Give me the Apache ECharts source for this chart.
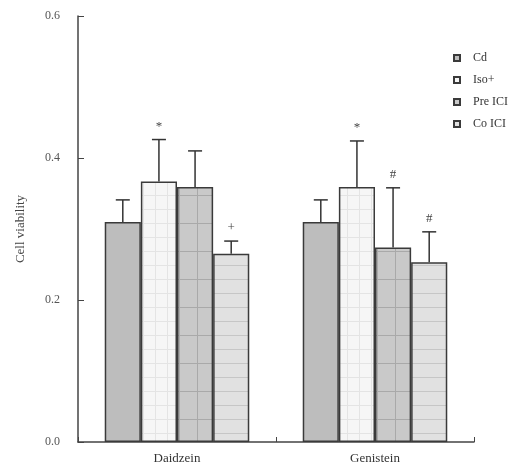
<!DOCTYPE html>
<html><head><meta charset="utf-8">
<script src="https://cdn.jsdelivr.net/npm/echarts@6/dist/echarts.min.js"></script>
<style>html,body{margin:0;padding:0;background:#fff}#c{width:526px;height:472px}</style>
</head><body><div id="c"></div>
<script>
var categories = ['Daidzein', 'Genistein'];
var seriesNames = ['Cd', 'Iso+', 'Pre ICI', 'Co ICI'];
var cdValues = [0.310, 0.310];
var isoValues = [0.367, 0.359];
var preValues = [0.359, 0.274];
var coValues = [0.265, 0.253];
var cdErr = [0.031, 0.031];
var isoErr = [0.059, 0.065];
var preErr = [0.051, 0.084];
var coErr = [0.018, 0.043];
var isoMarks = ['*', '*'];
var preMarks = ['', '#'];
var coMarks = ['+', '#'];
var cdMarks = ['', ''];
var yTicks = [0.0, 0.2, 0.4, 0.6];

function makePattern(w, h, bg, line, opts) {
  var cv = document.createElement('canvas');
  cv.width = w; cv.height = h;
  var ctx = cv.getContext('2d');
  ctx.fillStyle = bg; ctx.fillRect(0, 0, w, h);
  ctx.strokeStyle = line; ctx.lineWidth = 1;
  if (opts.h) { ctx.beginPath(); ctx.moveTo(0, h - 0.5); ctx.lineTo(w, h - 0.5); ctx.stroke(); }
  if (opts.v) { ctx.beginPath(); ctx.moveTo(w - 0.5, 0); ctx.lineTo(w - 0.5, h); ctx.stroke(); }
  return cv;
}
var fills = [
  '#bdbdbd',
  {image: makePattern(12, 14, '#f6f6f6', '#e4e4e4', {h: true, v: true}), repeat: 'repeat'},
  {image: makePattern(18, 28, '#c9c9c9', '#a9a9a9', {h: true, v: true}), repeat: 'repeat'},
  {image: makePattern(20, 14, '#e1e1e1', '#c6c6c6', {h: true}), repeat: 'repeat'}
];
var values = [cdValues, isoValues, preValues, coValues];
var errs = [cdErr, isoErr, preErr, coErr];
var marks = [cdMarks, isoMarks, preMarks, coMarks];

var series = [];
seriesNames.forEach(function (name, i) {
  series.push({
    name: name, type: 'bar', data: values[i],
    barGap: '0%', barCategoryGap: '27%',
    itemStyle: {color: fills[i], borderColor: '#3a3a3a', borderWidth: 1.5},
    emphasis: {disabled: true}
  });
});
var errData = [];
for (var s = 0; s < 4; s++) for (var c = 0; c < categories.length; c++)
  errData.push([c, values[s][c], values[s][c] + errs[s][c], s, marks[s][c]]);
series.push({
  type: 'custom', name: 'err', data: errData, z: 10, silent: true,
  renderItem: function (params, api) {
    var c = api.value(0), v = api.value(1), top = api.value(2), s = api.value(3);
    var mk = errData[params.dataIndex][4];
    var band = api.size([1, 0])[0];
    var bw = band * 0.73 / 4;
    var base = api.coord([c, v]);
    var x = base[0] + (s - 1.5) * bw;
    var yTop = api.coord([c, top])[1];
    var children = [
      {type: 'line', shape: {x1: x, y1: base[1], x2: x, y2: yTop}, style: {stroke: '#333', lineWidth: 1.5}},
      {type: 'line', shape: {x1: x - 7, y1: yTop, x2: x + 7, y2: yTop}, style: {stroke: '#333', lineWidth: 1.5}}
    ];
    if (mk) children.push({type: 'text', x: x, y: yTop - 13, style: {text: mk, fill: '#444', font: '13px "Liberation Serif"', align: 'center', verticalAlign: 'middle'}});
    return {type: 'group', children: children};
  }
});

var chart = echarts.init(document.getElementById('c'), null, {renderer: 'canvas'});
chart.setOption({
  animation: false,
  textStyle: {fontFamily: 'Liberation Serif'},
  grid: {left: 78, right: 52, top: 16, bottom: 30},
  legend: {
    data: seriesNames, orient: 'vertical', left: 448, top: 47,
    itemWidth: 6, itemHeight: 6, itemGap: 10,
    textStyle: {fontFamily: 'Liberation Serif', fontSize: 12, color: '#333', padding: [0, 0, 0, 8]},
    icon: 'rect', selectedMode: false
  },
  xAxis: {
    type: 'category', data: categories,
    axisLine: {lineStyle: {color: '#444', width: 1.5}},
    axisTick: {show: true, inside: true, length: 5, lineStyle: {color: '#444'}},
    axisLabel: {fontFamily: 'Liberation Serif', fontSize: 13, color: '#333', margin: 10}
  },
  yAxis: {
    type: 'value', min: 0, max: 0.6, interval: 0.2,
    name: 'Cell viability', nameLocation: 'middle', nameGap: 51, nameRotate: 90,
    nameTextStyle: {fontFamily: 'Liberation Serif', fontSize: 13, color: '#444'},
    axisLine: {show: true, lineStyle: {color: '#444', width: 1.5}},
    axisTick: {show: true, inside: true, length: 6, lineStyle: {color: '#444'}},
    splitLine: {show: false},
    axisLabel: {fontFamily: 'Liberation Serif', fontSize: 12, color: '#555', margin: 18,
      formatter: function (v) { return v.toFixed(1); }}
  },
  series: series
});
</script></body></html>
